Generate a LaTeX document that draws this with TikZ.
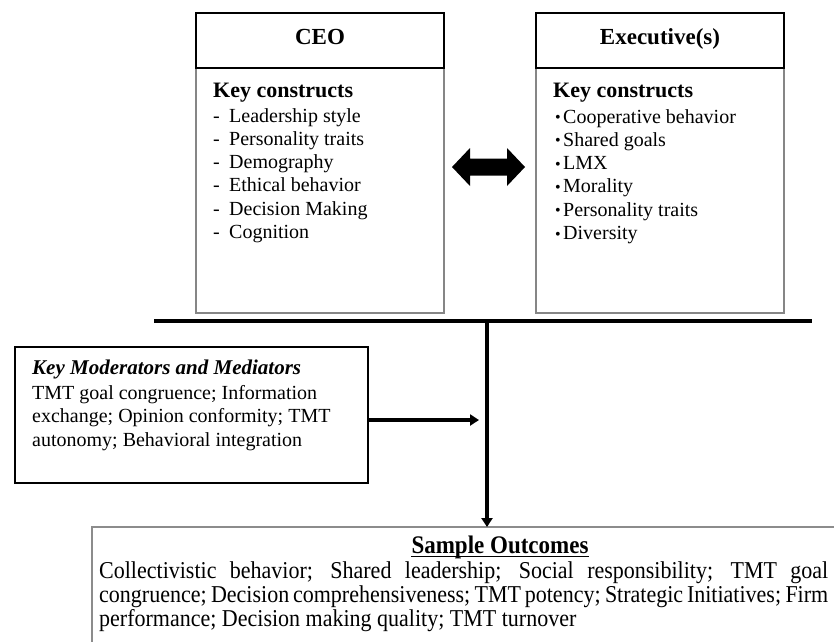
\documentclass[tikz,border=0pt]{standalone}
\usepackage{fontspec}
\setmainfont{Liberation Serif}
\usepackage{tikz}
\usetikzlibrary{arrows.meta,positioning,calc}

\begin{document}
\begin{tikzpicture}
[
	x=1pt, y=-1pt,
	headbox/.style={rectangle,draw=black,line width=2.7pt,fill=white,outer sep=0pt,minimum width=248pt,minimum height=55pt,text height=16pt,text depth=8pt,font=\fontsize{23}{27}\selectfont\bfseries},
	bodybox/.style={rectangle,draw=gray!95,line width=2.7pt,outer sep=0pt,minimum width=248pt,minimum height=245pt},
	modbox/.style={rectangle,draw=black,line width=2.7pt,outer sep=0pt,minimum width=353pt,minimum height=136pt},
	outbox/.style={rectangle,draw=gray!90,line width=2.5pt,outer sep=0pt,minimum width=812pt,minimum height=160pt},
	keyline/.style={inner sep=0pt,anchor=base west,font=\fontsize{22}{26}\selectfont\bfseries},
	item/.style={inner sep=0pt,anchor=base west,font=\fontsize{20}{24}\selectfont},
	wide/.style={inner sep=0pt,anchor=base west,font=\fontsize{22}{26}\selectfont},
	bar/.style={line width=4.2pt},
	flow/.style={line width=4pt,-{Triangle[width=11pt,length=9pt]}},
]
	\useasboundingbox (0,0) rectangle (834,641);
	\clip (0,0) rectangle (834,641);

	\begin{scope}
		\node[bodybox,anchor=north west] (ceobody) at (196,68) {};
		\node[headbox,anchor=south west] (ceo) at (ceobody.north west) {CEO};
		\node[keyline] (ceokey) at (213,97) {Key constructs};
		\foreach \t [count=\i] in {Leadership style,Personality traits,Demography,Ethical behavior,Decision Making,Cognition}
			\node[item] (ceoitem\i) at (213,{98.7+23.3*\i}) {\makebox[16pt][l]{-}\t};
	\end{scope}

	\begin{scope}
		\node[bodybox,right=92pt of ceobody] (execbody) {};
		\node[headbox,anchor=south west] (exec) at (execbody.north west) {Executive(s)};
		\node[keyline] (execkey) at (553,97) {Key constructs};
		\foreach \t [count=\i] in {Cooperative behavior,Shared goals,LMX,Morality,Personality traits,Diversity}
			\node[item] (execitem\i) at (555,{99.7+23.3*\i}) {\makebox[8pt][l]{\raisebox{0.5pt}{\fontsize{16}{16}\selectfont\textbullet}}\t};
	\end{scope}

	\begin{scope}
		\coordinate (link) at (488.5,167);
		\fill (link) ++(-36.5,0) -- ++(18,-19) -- ++(0,10.5) -- ++(37,0) -- ++(0,-10.5) -- ++(18,19) -- ++(-18,19) -- ++(0,-10.5) -- ++(-37,0) -- ++(0,10.5) -- cycle;
	\end{scope}

	\coordinate (barL) at (154,321);
	\coordinate (barR) at (812,321);
	\coordinate (join) at (487,321);
	\draw[bar] (barL) -- (barR);

	\begin{scope}
		\node[modbox,anchor=north west] (mod) at (15,347) {};
		\node[keyline,font=\fontsize{21}{25}\selectfont\bfseries\itshape] (modkey) at (32,374) {Key Moderators and Mediators};
		\foreach \t [count=\i] in {TMT goal congruence; Information,exchange; Opinion conformity; TMT,autonomy; Behavioral integration}
			\node[item] (moditem\i) at (32,{375.5+23.5*\i}) {\t};
		\coordinate (modtip) at (479,420);
		\draw[flow] (mod.east |- modtip) -- (modtip);
	\end{scope}

	\begin{scope}
		\node[outbox,anchor=north west] (outcome) at (92,527) {};
		\node[anchor=base,inner sep=0pt,font=\fontsize{23}{27}\selectfont\bfseries] (outkey) at ([yshift=-26pt,xshift=2pt]outcome.north) {\scalebox{1}[1.1]{Sample Outcomes}};
		\draw[line width=1.3pt] ([yshift=-3.5pt]outkey.base west) -- ([yshift=-3.5pt]outkey.base east);
		\draw[flow] (join) -- (join |- outcome.north);
		\node[wide] (out1) at (99,578) {\scalebox{1}[1.1]{\makebox[729pt][s]{Collectivistic behavior; Shared leadership; Social responsibility; TMT goal}}};
		\node[wide] (out2) at (99,602) {\scalebox{1}[1.1]{\makebox[729pt][s]{congruence; Decision comprehensiveness; TMT potency; Strategic Initiatives; Firm}}};
		\node[wide] (out3) at (99,626) {\scalebox{1}[1.1]{performance; Decision making quality; TMT turnover}};
	\end{scope}
\end{tikzpicture}
\end{document}
